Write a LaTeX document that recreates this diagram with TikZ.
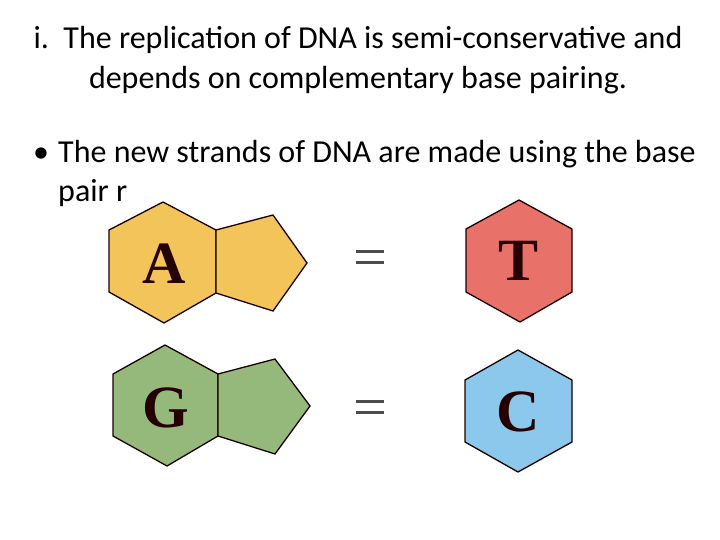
\documentclass[tikz,border=0pt]{standalone}
\usepackage{fontspec}
\setmainfont{Carlito}
\newfontfamily\serifb{Liberation Serif}
\definecolor{ayel}{HTML}{F2C45A}
\definecolor{tred}{HTML}{E8716A}
\definecolor{ggrn}{HTML}{95B97A}
\definecolor{cblu}{HTML}{8CC8EC}
\begin{document}
\begin{tikzpicture}[x=1pt,y=-1pt,
  ring/.style={draw=black!90!red, line width=1.3pt, line join=miter},
  txt/.style={font=\fontsize{32}{38}\selectfont, inner sep=0pt},
  base/.style={font=\serifb\bfseries\fontsize{60}{60}\selectfont, text=black!85!red, inner sep=0pt},
  eqline/.style={draw=black!70, line width=3pt}]
\useasboundingbox[fill=white] (0,0) rectangle (720,540);
\node[txt] (t1) at (358,40) {i.\ \ The replication of DNA is semi-conservative and};
\node[txt] (t2) at (358,80) {depends on complementary base pairing.};
\node[txt,anchor=base west] (b0) at (33,163) {•};
\node[txt,anchor=base west] (b1) at (58,163) {The new strands of DNA are made using the base};
\node[txt,anchor=base west] (b2) at (58,202) {pair r};
% A
\filldraw[ring,fill=ayel] (163,202) -- (109,230) -- (109,292) -- (164,323) -- (216,293) -- (216,230) -- cycle;
\filldraw[ring,fill=ayel] (216,230) -- (273,215) -- (307,263) -- (273,311) -- (216,293) -- cycle;
\node[base] (A) at (164,264) {A};
% T
\filldraw[ring,fill=tred] (519,200) -- (466,229) -- (466,292) -- (520,322) -- (572,292) -- (572,229) -- cycle;
\node[base] (T) at (519,261) {T};
% G
\filldraw[ring,fill=ggrn] (165,345) -- (113,374) -- (113,436) -- (167,466) -- (218,436) -- (218,374) -- cycle;
\filldraw[ring,fill=ggrn] (218,374) -- (275,359) -- (310,406) -- (275,454) -- (218,436) -- cycle;
\node[base] (G) at (166,408) {G};
% C
\filldraw[ring,fill=cblu] (518,350) -- (465,380) -- (465,442) -- (518,472) -- (572,442) -- (572,380) -- cycle;
\node[base] (C) at (518,412) {C};
\coordinate (e1) at (370,256);
\coordinate (e2) at (370,406);
\draw[eqline] ([shift={(-14,-5)}]e1) -- ([shift={(14,-5)}]e1) ([shift={(-14,6)}]e1) -- ([shift={(14,6)}]e1);
\draw[eqline] ([shift={(-14,-5)}]e2) -- ([shift={(14,-5)}]e2) ([shift={(-14,6)}]e2) -- ([shift={(14,6)}]e2);
\end{tikzpicture}
\end{document}
